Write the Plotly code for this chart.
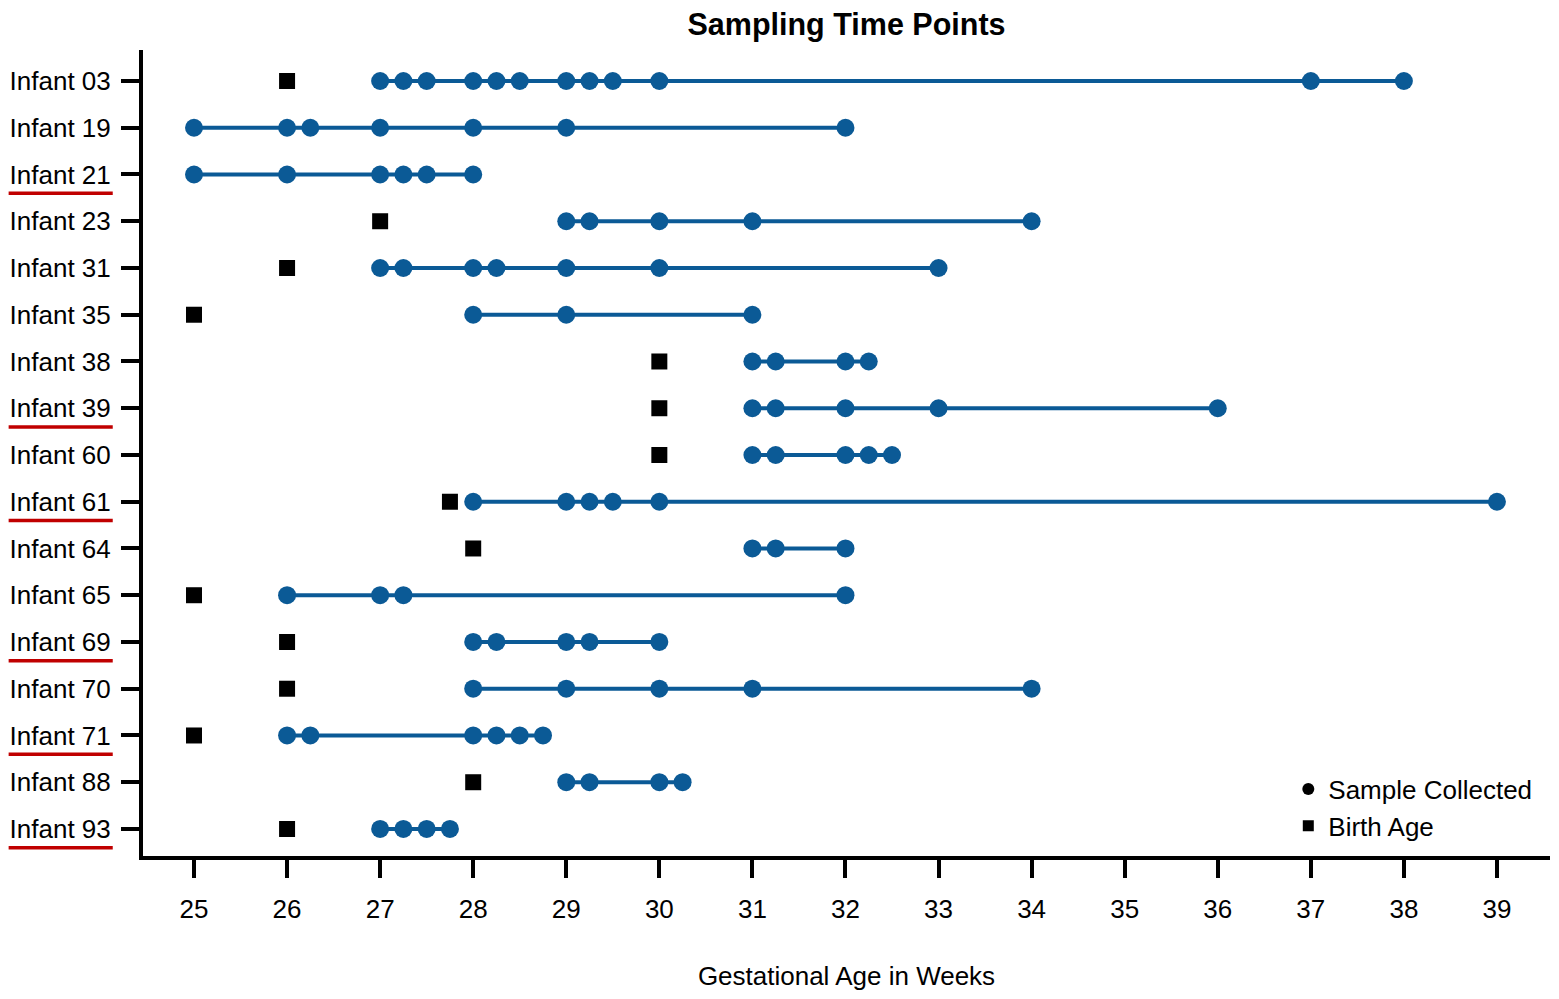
import plotly.graph_objects as go

infants = ["Infant 03", "Infant 19", "Infant 21", "Infant 23", "Infant 31", "Infant 35",
           "Infant 38", "Infant 39", "Infant 60", "Infant 61", "Infant 64", "Infant 65",
           "Infant 69", "Infant 70", "Infant 71", "Infant 88", "Infant 93"]

birth_age = [26, None, None, 27, 26, 25, 30, 30, 30, 27.75, 28, 25, 26, 26, 25, 28, 26]

samples = [
    [27, 27.25, 27.5, 28, 28.25, 28.5, 29, 29.25, 29.5, 30, 37, 38],
    [25, 26, 26.25, 27, 28, 29, 32],
    [25, 26, 27, 27.25, 27.5, 28],
    [29, 29.25, 30, 31, 34],
    [27, 27.25, 28, 28.25, 29, 30, 33],
    [28, 29, 31],
    [31, 31.25, 32, 32.25],
    [31, 31.25, 32, 33, 36],
    [31, 31.25, 32, 32.25, 32.5],
    [28, 29, 29.25, 29.5, 30, 39],
    [31, 31.25, 32],
    [26, 27, 27.25, 32],
    [28, 28.25, 29, 29.25, 30],
    [28, 29, 30, 31, 34],
    [26, 26.25, 28, 28.25, 28.5, 28.75],
    [29, 29.25, 30, 30.25],
    [27, 27.25, 27.5, 27.75],
]

underlined = ["Infant 21", "Infant 39", "Infant 61", "Infant 69", "Infant 71", "Infant 93"]

weeks = list(range(25, 40))

blue = "#0b5a96"
font = "Liberation Sans, Arial, sans-serif"

fig = go.Figure()

for i, name in enumerate(infants):
    fig.add_trace(go.Scatter(
        x=samples[i], y=[i] * len(samples[i]),
        mode="lines+markers",
        line=dict(color=blue, width=4),
        marker=dict(color=blue, size=18, symbol="circle"),
        showlegend=False, name=name,
    ))

bx = [b for b in birth_age if b is not None]
by = [i for i, b in enumerate(birth_age) if b is not None]
fig.add_trace(go.Scatter(
    x=bx, y=by, mode="markers",
    marker=dict(color="black", size=16, symbol="square"),
    showlegend=False,
))

# legend only entries (black symbols)
fig.add_trace(go.Scatter(x=[None], y=[None], mode="markers", name="Sample Collected",
                         marker=dict(color="black", size=12, symbol="circle")))
fig.add_trace(go.Scatter(x=[None], y=[None], mode="markers", name="Birth Age",
                         marker=dict(color="black", size=11, symbol="square")))

for name in underlined:
    row = infants.index(name)
    fig.add_shape(type="line", xref="paper", yref="y",
                  x0=-0.0955, x1=-0.0215, y0=row + 0.4, y1=row + 0.4,
                  line=dict(color="#c00000", width=3.5))

# page body has an 8px margin, so the figure is a bit smaller than the window
fig.update_layout(
    width=1551, height=983,
    margin=dict(l=135, r=9, t=42, b=135, autoexpand=False),
    plot_bgcolor="white", paper_bgcolor="white",
    font=dict(family=font, size=26, color="black"),
    title=dict(text="<b>Sampling Time Points</b>", x=0.5, xref="paper",
               y=0.994, yanchor="top", font=dict(size=30.5, color="black")),
    showlegend=True,
    legend=dict(x=0.814, y=0.008, xanchor="left", yanchor="bottom",
                bgcolor="rgba(0,0,0,0)", font=dict(size=26), tracegroupgap=0,
                itemsizing="trace"),
)

fig.update_xaxes(
    range=[24.452, 39.57], tickvals=weeks, ticktext=[str(w) for w in weeks],
    showgrid=False, zeroline=False, showline=True, linecolor="black", linewidth=4,
    ticks="outside", ticklen=18, tickwidth=4, tickcolor="black",
    ticklabelstandoff=9, automargin=False,
    title=dict(text="Gestational Age in Weeks", standoff=46, font=dict(size=26)),
)
fig.update_yaxes(
    range=[16.578, -0.663], tickvals=list(range(len(infants))), ticktext=infants,
    showgrid=False, zeroline=False, showline=True, linecolor="black", linewidth=4,
    ticks="outside", ticklen=18, tickwidth=4, tickcolor="black",
    ticklabelstandoff=5, automargin=False,
)

fig.write_html("out.html")
